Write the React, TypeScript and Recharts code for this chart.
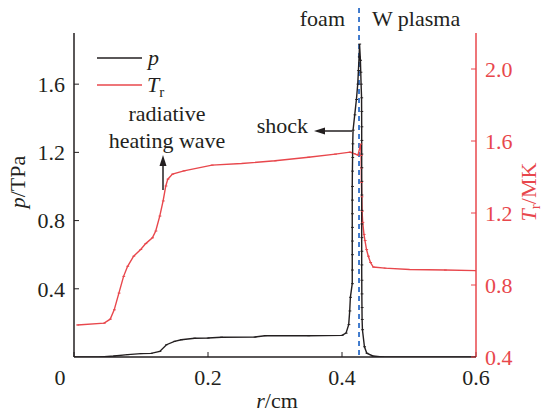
import React from "react";
import { LineChart, Line, XAxis, YAxis, ReferenceLine } from "recharts";

// pressure profile (black, left axis)
const pR = [
  0, 0.04, 0.06, 0.08, 0.1, 0.115, 0.128, 0.138, 0.15, 0.16, 0.18, 0.2, 0.22, 0.27, 0.285, 0.35, 0.4,
  0.406, 0.41, 0.4115, 0.4125, 0.4153, 0.4153, 0.4153, 0.4153, 0.4153, 0.4153, 0.4153, 0.4153, 0.4155,
  0.4158, 0.416, 0.4165, 0.419, 0.4215, 0.4235, 0.4245, 0.4255, 0.4262, 0.4275, 0.428, 0.4285, 0.4292,
  0.4293, 0.4294, 0.4294, 0.4294, 0.4294, 0.4294, 0.4294, 0.4294, 0.4294, 0.4294, 0.4294, 0.4294, 0.4295,
  0.4296, 0.4298, 0.43, 0.4305, 0.4335, 0.437, 0.446, 0.46, 0.6,
];
const pVal = [
  0, 0, 0.006, 0.014, 0.02, 0.021, 0.033, 0.072, 0.092, 0.101, 0.11, 0.111, 0.116, 0.117, 0.125, 0.125, 0.127,
  0.14, 0.19, 0.27, 0.35, 0.43, 0.51, 0.6, 0.68, 0.76, 0.84, 0.92, 1.0, 1.09,
  1.17, 1.25, 1.33, 1.42, 1.51, 1.6, 1.68, 1.76, 1.835, 1.74, 1.67, 1.6, 1.52,
  1.44, 1.35, 1.27, 1.19, 1.11, 1.03, 0.95, 0.86, 0.78, 0.7, 0.62, 0.54, 0.45,
  0.37, 0.29, 0.22, 0.16, 0.06, 0.022, 0.006, 0, 0,
];

// radiation temperature profile (red, right axis)
const tR = [
  0.005, 0.045, 0.054, 0.06, 0.067, 0.074, 0.08, 0.089, 0.0995, 0.107, 0.117, 0.122, 0.128, 0.133, 0.137,
  0.14, 0.147, 0.164, 0.206, 0.25, 0.3, 0.35, 0.39, 0.412, 0.418, 0.4239, 0.4279, 0.4285, 0.4288, 0.429,
  0.4295, 0.43, 0.4309, 0.4328, 0.4343, 0.4366, 0.4393, 0.4425, 0.4467, 0.464, 0.501, 0.554, 0.6,
];
const tVal = [
  0.578, 0.588, 0.61, 0.662, 0.755, 0.848, 0.904, 0.96, 0.997, 1.03, 1.062, 1.1, 1.183, 1.267, 1.35,
  1.388, 1.416, 1.434, 1.466, 1.475, 1.49, 1.51, 1.527, 1.538, 1.53, 1.522, 1.583, 1.52, 1.45, 1.37,
  1.29, 1.21, 1.148, 1.081, 1.047, 0.997, 0.96, 0.925, 0.9, 0.894, 0.886, 0.883, 0.88,
];

const rTicks = [0, 0.2, 0.4, 0.6];
const pTicks = [0.4, 0.8, 1.2, 1.6];
const tTicks = [0.4, 0.8, 1.2, 1.6, 2.0];
const interfaceR = 0.4254;

const pData = pR.map((r, i) => ({ r, p: pVal[i] }));
const tData = tR.map((r, i) => ({ r, t: tVal[i] }));

const BLACK = "#231f20";
const RED = "#e8474c";
const BLUE = "#2f6fc9";
const FONT = "Liberation Serif";

const mark = (color: string) => (props: any) => (
  <line
    key={`m-${color}-${props.index}`}
    x1={props.cx - 1.2}
    x2={props.cx + 1.6}
    y1={props.cy}
    y2={props.cy}
    stroke={color}
    strokeWidth={1}
  />
);

const xTick = (props: any) => {
  const { x, y, payload } = props;
  const shift = payload.value === 0 ? -14 : 0;
  return (
    <text x={x + shift} y={y} dy="0.71em" textAnchor="middle" fill={BLACK} fontSize={22} style={{ fontFamily: FONT }}>
      {payload.value === 0 ? "0" : payload.value.toFixed(1)}
    </text>
  );
};

export default function App() {
  return (
    <div style={{ position: "absolute", left: 0, top: 0, width: 542, height: 412, background: "#fff", fontFamily: FONT }}>
      <LineChart width={542} height={412} margin={{ top: 33, right: 0, bottom: 0, left: 0 }} style={{ fontFamily: FONT }}>
        <XAxis
          dataKey="r"
          type="number"
          domain={[0, 0.6]}
          ticks={rTicks}
          allowDataOverflow
          height={55}
          tickSize={-5}
          tickMargin={17}
          tick={xTick}
          stroke={BLACK}
          axisLine={{ stroke: BLACK, strokeWidth: 1.5 }}
        />
        <XAxis
          xAxisId="top"
          orientation="top"
          type="number"
          domain={[0, 0.6]}
          height={0}
          tick={false}
          tickLine={false}
          axisLine={{ stroke: BLACK, strokeWidth: 1.5 }}
        />
        <YAxis
          yAxisId="p"
          type="number"
          domain={[0, 1.9]}
          ticks={pTicks}
          allowDataOverflow
          width={74}
          tickSize={-5}
          tickMargin={14}
          stroke={BLACK}
          axisLine={{ stroke: BLACK, strokeWidth: 1.5 }}
          tick={{ fill: BLACK, fontSize: 22, style: { fontFamily: FONT } }}
          tickFormatter={(v: number) => v.toFixed(1)}
        />
        <YAxis
          yAxisId="t"
          orientation="right"
          type="number"
          domain={[0.4, 2.2]}
          ticks={tTicks}
          allowDataOverflow
          width={66}
          tickSize={-5}
          tickMargin={14}
          stroke={RED}
          axisLine={{ stroke: RED, strokeWidth: 1.5 }}
          tick={{ fill: RED, fontSize: 22, style: { fontFamily: FONT } }}
          tickFormatter={(v: number) => v.toFixed(1)}
        />
        <ReferenceLine
          x={interfaceR}
          yAxisId="p"
          stroke={BLUE}
          strokeWidth={1.8}
          strokeDasharray="5 4"
          shape={(props: any) => (
            <line
              x1={props.x1}
              x2={props.x2}
              y1={Math.min(props.y1, props.y2) - 25}
              y2={Math.max(props.y1, props.y2)}
              stroke={BLUE}
              strokeWidth={1.8}
              strokeDasharray="5 4"
            />
          )}
        />
        <Line
          data={tData}
          dataKey="t"
          yAxisId="t"
          type="linear"
          stroke={RED}
          strokeWidth={1.4}
          dot={mark(RED)}
          isAnimationActive={false}
        />
        <Line
          data={pData}
          dataKey="p"
          yAxisId="p"
          type="linear"
          stroke={BLACK}
          strokeWidth={1.4}
          dot={mark(BLACK)}
          isAnimationActive={false}
        />
      </LineChart>
      <svg
        width={542}
        height={412}
        style={{ position: "absolute", left: 0, top: 0, pointerEvents: "none", fontFamily: FONT, fontSize: 22 }}
      >
        {/* legend */}
        <line x1={97} x2={142} y1={58} y2={58} stroke={BLACK} strokeWidth={1.5} />
        <text x={148} y={65} fill={BLACK} fontStyle="italic">p</text>
        <line x1={97} x2={142} y1={85} y2={85} stroke={RED} strokeWidth={1.5} />
        <text x={147} y={92} fill={BLACK}>
          <tspan fontStyle="italic">T</tspan>
          <tspan fontSize={15} dy={5}>r</tspan>
        </text>

        {/* header */}
        <text x={345} y={26} textAnchor="end" fill={BLACK}>foam</text>
        <text x={372} y={26} fill={BLACK}>W plasma</text>

        {/* annotations */}
        <text x={167} y={121} textAnchor="middle" fill={BLACK}>radiative</text>
        <text x={167} y={148} textAnchor="middle" fill={BLACK}>heating wave</text>
        <line x1={163} x2={163} y1={190} y2={164} stroke={BLACK} strokeWidth={1.5} />
        <polygon points="163,155 159.5,166 166.5,166" fill={BLACK} />

        <text x={308} y={133} textAnchor="end" fill={BLACK}>shock</text>
        <line x1={352} x2={324} y1={131} y2={131} stroke={BLACK} strokeWidth={1.5} />
        <polygon points="314,131 325,127.5 325,134.5" fill={BLACK} />

        {/* axis titles */}
        <text transform="translate(25,182) rotate(-90)" textAnchor="middle" fill={BLACK}>
          <tspan fontStyle="italic">p</tspan>/TPa
        </text>
        <text transform="translate(536,192) rotate(-90)" textAnchor="middle" fill={RED}>
          <tspan fontStyle="italic">T</tspan>
          <tspan fontSize={15} dy={4}>r</tspan>
          <tspan dy={-4}>/MK</tspan>
        </text>
        <text x={277} y={408} textAnchor="middle" fill={BLACK}>
          <tspan fontStyle="italic">r</tspan>/cm
        </text>
      </svg>
    </div>
  );
}
